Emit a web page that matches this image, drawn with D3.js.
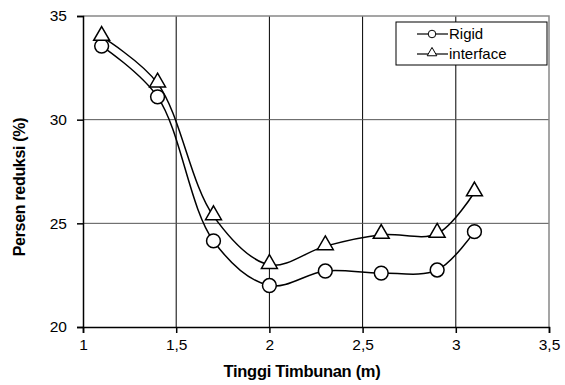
<!DOCTYPE html>
<html>
<head>
<meta charset="utf-8">
<script src="https://cdn.jsdelivr.net/npm/d3@7"></script>
<style>
  body { margin: 0; background: #fff; }
  svg { font-family: "Liberation Sans", Arial, sans-serif; }
</style>
</head>
<body>
<svg id="chart" width="565" height="385"></svg>
<script>
// data
let xVals        = [1.1, 1.4, 1.7, 2.0, 2.3, 2.6, 2.9, 3.1];
let rigidVals    = [33.55, 31.1, 24.15, 22.0, 22.7, 22.6, 22.75, 24.6];
let interfVals   = [34.0, 31.75, 25.35, 23.0, 23.9, 24.45, 24.5, 26.5];
let xTicks       = [1, 1.5, 2, 2.5, 3, 3.5];
let yTicks       = [20, 25, 30, 35];
let seriesNames  = ["Rigid", "interface"];

let plotL = 83, plotR = 549, plotT = 16, plotB = 327;

let svg = d3.select("#chart");

let x = d3.scaleLinear().domain([1, 3.5]).range([plotL, plotR]);
let y = d3.scaleLinear().domain([20, 35]).range([plotB, plotT]);

let fmt = d => String(d).replace(".", ",");

// grid lines
svg.append("g")
    .selectAll("line")
    .data(xTicks.slice(1, -1))
    .enter().append("line")
        .attr("x1", d => x(d)).attr("x2", d => x(d))
        .attr("y1", plotT).attr("y2", plotB)
        .attr("stroke", "#000").attr("stroke-width", 1);

svg.append("g")
    .selectAll("line")
    .data(yTicks.slice(1, -1))
    .enter().append("line")
        .attr("x1", plotL).attr("x2", plotR)
        .attr("y1", d => y(d)).attr("y2", d => y(d))
        .attr("stroke", "#555").attr("stroke-width", 1);

// top + right border
svg.append("path")
    .attr("d", `M${plotL},${plotT}H${plotR}V${plotB}`)
    .attr("fill", "none").attr("stroke", "#888").attr("stroke-width", 1.5);

// axes
let xAxis = svg.append("g")
    .attr("transform", `translate(0,${plotB})`)
    .call(d3.axisBottom(x).tickValues(xTicks).tickFormat(fmt).tickSize(6).tickPadding(6));
let yAxis = svg.append("g")
    .attr("transform", `translate(${plotL},0)`)
    .call(d3.axisLeft(y).tickValues(yTicks).tickFormat(fmt).tickSize(6).tickPadding(10));

[xAxis, yAxis].forEach(a => {
    a.select(".domain").attr("stroke", "#000").attr("stroke-width", 1.5);
    a.selectAll(".tick line").attr("stroke", "#000").attr("stroke-width", 1.5);
    a.selectAll("text")
        .attr("fill", "#000")
        .style("font-size", "15.5px")
        .style("font-family", "Liberation Sans, Arial, sans-serif");
});

// axis titles
svg.append("text")
    .attr("x", 302)
    .attr("y", 377)
    .attr("text-anchor", "middle")
    .style("font-size", "16.5px")
    .style("font-weight", "bold")
    .style("letter-spacing", "-0.3px")
    .text("Tinggi Timbunan (m)");

svg.append("text")
    .attr("transform", `translate(25,187) rotate(-90)`)
    .attr("text-anchor", "middle")
    .style("font-size", "16px")
    .style("font-weight", "bold")
    .style("letter-spacing", "-0.3px")
    .text("Persen reduksi (%)");

// lines
let line = d3.line()
    .x(d => x(d[0]))
    .y(d => y(d[1]))
    .curve(d3.curveCatmullRom.alpha(0.5));

let rigidPts  = xVals.map((v, i) => [v, rigidVals[i]]);
let interfPts = xVals.map((v, i) => [v, interfVals[i]]);

[rigidPts, interfPts].forEach(pts => {
    svg.append("path")
        .datum(pts)
        .attr("d", line)
        .attr("fill", "none")
        .attr("stroke", "#000")
        .attr("stroke-width", 1.5);
});

let circ = d3.symbol().type(d3.symbolCircle).size(150);
let tri  = d3.symbol().type(d3.symbolTriangle).size(110);

svg.append("g").selectAll("path")
    .data(rigidPts)
    .enter().append("path")
        .attr("d", circ)
        .attr("transform", d => `translate(${x(d[0])},${y(d[1])})`)
        .attr("fill", "#fff").attr("stroke", "#000").attr("stroke-width", 1.5);

svg.append("g").selectAll("path")
    .data(interfPts)
    .enter().append("path")
        .attr("d", tri)
        .attr("transform", d => `translate(${x(d[0])},${y(d[1]) - 1})`)
        .attr("fill", "#fff").attr("stroke", "#000").attr("stroke-width", 1.5);

// legend
let lg = svg.append("g").attr("transform", "translate(396,22)");
lg.append("rect")
    .attr("width", 151).attr("height", 43)
    .attr("fill", "#fff").attr("stroke", "#000").attr("stroke-width", 1);

let legSyms = [d3.symbol().type(d3.symbolCircle).size(45), d3.symbol().type(d3.symbolTriangle).size(40)];
seriesNames.forEach((name, i) => {
    let yy = 12 + i * 20;
    lg.append("line")
        .attr("x1", 21).attr("x2", 52)
        .attr("y1", yy).attr("y2", yy)
        .attr("stroke", "#000").attr("stroke-width", 1.2);
    lg.append("path")
        .attr("d", legSyms[i])
        .attr("transform", `translate(36,${yy - (i ? 1 : 0)})`)
        .attr("fill", "#fff").attr("stroke", "#000").attr("stroke-width", 1);
    lg.append("text")
        .attr("x", 53).attr("y", yy + 5)
        .style("font-size", "15px")
        .text(name);
});
</script>
</body>
</html>
